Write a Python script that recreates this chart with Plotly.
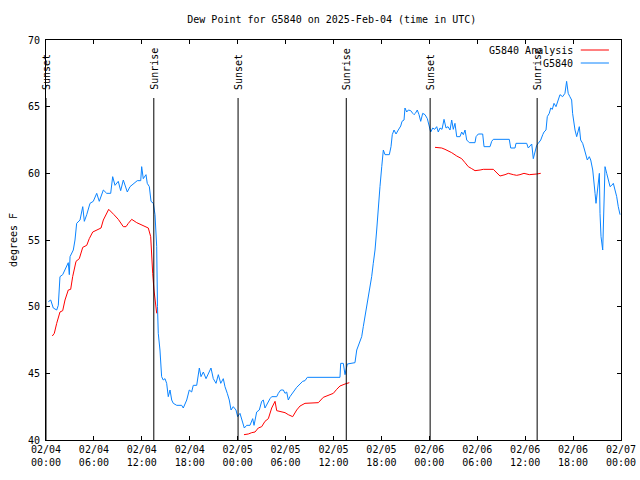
import pandas as pd
import plotly.graph_objects as go

BASE = pd.Timestamp("2025-02-04 00:00")

# Observed dew point (G5840), hours after 2025-02-04 00:00 UTC
obs_hours = [0.29, 0.59, 0.91, 1.34, 1.54, 1.75, 2.09, 2.38, 2.59, 2.79, 2.92, 3.01, 3.42, 3.63, 3.84,
             4.26, 4.60, 4.80, 5.10, 5.51, 5.92, 6.35, 6.67, 7.18, 7.60, 8.10, 8.35, 8.64, 9.05, 9.35,
             9.68, 10.18, 10.52, 10.93, 11.43, 11.86, 11.98, 12.18, 12.52, 12.68, 12.94, 13.15, 13.44,
             13.65, 13.86, 13.96, 14.06, 14.27, 14.48, 14.68, 14.90, 15.11, 15.31, 15.53, 15.74, 15.94,
             16.37, 16.99, 17.19, 17.62, 17.94, 18.24, 18.44, 18.87, 19.20, 19.41, 19.70, 20.04, 20.32,
             20.66, 20.95, 21.29, 21.58, 21.88, 22.20, 22.41, 22.70, 22.95, 23.17, 23.45, 23.79, 24.00,
             24.29, 24.51, 24.83, 25.13, 25.54, 25.88, 26.05, 26.38, 26.71, 27.01, 27.21, 27.42, 27.71,
             28.05, 28.26, 28.89, 29.09, 29.39, 29.72, 29.93, 30.14, 30.34, 30.55, 30.97, 31.39, 31.81,
             32.14, 32.43, 32.72, 36.81, 36.90, 37.23, 37.44, 37.73, 38.69, 38.91, 39.33, 39.53, 39.73,
             39.94, 40.16, 40.36, 40.57, 40.78, 40.98, 41.20, 41.41, 41.61, 41.82, 42.04, 42.24, 42.45,
             42.99, 43.20, 43.36, 43.58, 43.83, 44.11, 44.42, 44.58, 44.83, 44.95, 45.17, 45.37, 45.67,
             45.92, 46.08, 46.25, 46.49, 46.71, 46.92, 47.17, 47.46, 47.75, 48.00, 48.17, 48.42, 48.67,
             48.92, 49.12, 49.34, 49.59, 49.84, 50.09, 50.34, 50.59, 50.80, 51.00, 51.21, 51.43, 51.84,
             52.05, 52.26, 52.47, 52.68, 53.01, 53.72, 53.85, 54.13, 54.68, 54.85, 55.60, 55.81, 56.01,
             58.01, 58.19, 58.73, 58.85, 60.19, 60.39, 60.82, 61.02, 61.23, 61.44, 61.64, 61.95, 62.20,
             62.36, 62.61, 62.77, 63.02, 63.20, 63.40, 63.61, 63.86, 64.15, 64.36, 64.69, 64.98, 65.19,
             65.39, 65.60, 65.82, 65.94, 66.11, 66.24, 66.45, 66.65, 66.78, 66.95, 67.20, 67.37, 67.62,
             67.78, 68.03, 68.21, 68.46, 68.62, 68.75, 68.87, 69.04, 69.29, 69.37, 69.50, 69.71, 69.87,
             70.00, 70.21, 70.42, 70.63, 70.84, 71.04, 71.25, 71.46, 71.66, 71.88]
obs_values = [50.37, 50.5, 49.9, 49.75, 50.1, 52.25, 52.4, 52.75, 53.1, 53.3, 52.4, 53.75, 54.25, 55.0, 56.25,
              56.5, 57.5, 56.4, 56.9, 57.75, 57.9, 58.5, 57.9, 58.75, 58.5, 58.5, 59.75, 59.1, 59.4, 58.7,
              59.5, 58.6, 59.0, 59.2, 59.45, 59.45, 60.5, 59.6, 59.9, 59.25, 59.0, 57.9, 57.75,
              56.9, 54.5, 50.0, 48.0, 46.75, 44.75, 44.5, 44.6, 44.25, 43.25, 43.75, 43.0, 42.75,
              42.6, 42.6, 42.4, 43.0, 43.75, 43.6, 44.1, 44.1, 45.4, 44.75, 45.1, 44.6, 45.0,
              45.4, 44.6, 44.25, 44.9, 44.25, 44.6, 44.0, 43.5, 43.0, 42.25, 42.5, 42.25, 41.75,
              42.0, 41.5, 40.9, 41.1, 41.1, 41.6, 41.1, 42.1, 42.25, 42.9, 43.0, 42.4, 42.75,
              43.1, 43.25, 43.25, 43.5, 43.75, 43.75, 43.5, 43.6, 43.0, 43.25, 43.6, 43.95, 44.2,
              44.4, 44.45, 44.7, 44.7, 45.75, 45.75, 44.9, 45.7, 45.8, 46.75, 47.5, 47.75, 48.5,
              49.25, 50.0, 50.5, 51.5, 52.25, 53.25, 54.25, 55.75, 57.75, 59.0, 60.5, 61.75, 61.4,
              61.4, 62.0, 62.9, 63.25, 62.95, 63.25, 63.55, 63.9, 64.0, 64.9, 64.6, 64.75, 64.7,
              64.5, 64.4, 64.5, 64.75, 64.4, 63.9, 64.5, 64.4, 64.1, 63.6, 63.1, 63.4, 63.3,
              63.5, 63.1, 63.4, 63.3, 64.05, 63.4, 63.5, 63.25, 64.0, 63.3, 63.75, 62.75, 62.75,
              63.1, 62.9, 63.25, 62.5, 62.3, 62.3, 62.75, 62.95, 62.95, 62.0, 62.0, 62.4, 62.55,
              62.55, 61.9, 61.9, 62.25, 62.25, 61.9, 62.2, 61.1, 61.6, 62.1, 62.25, 62.5, 62.9,
              63.1, 63.25, 64.25, 64.5, 64.9, 64.8, 65.25, 65.0, 65.6, 65.9, 65.75, 66.0, 66.9,
              66.0, 65.75, 65.5, 64.5, 63.75, 63.25, 62.75, 63.1, 63.5, 62.5, 62.25, 61.9, 61.4,
              61.0, 61.25, 61.0, 60.25, 59.5, 58.5, 57.75, 58.5, 60.0, 57.0, 55.25, 54.25, 57.0,
              60.5, 60.0, 59.5, 59.0, 59.1, 59.25, 58.75, 58.25, 57.5, 56.9]

# Analysis dew point (G5840 Analysis); None marks gaps
ana_hours = [0.79, 1.04, 1.34, 1.75, 2.09, 2.38, 2.79, 3.09, 3.34, 3.76, 4.17, 4.60, 5.10, 5.42, 5.85,
             6.35, 6.89, 7.18, 7.85, 8.51, 9.05, 9.68, 10.02, 10.31, 10.73, 11.36, 12.18, 12.81, 13.11,
             13.23, 13.36, 13.52, 13.65, 13.86, 19.0,
             24.79, 25.33, 25.76, 26.17, 26.58, 27.01, 27.42, 27.84, 28.26, 28.68, 28.89, 29.30, 29.93,
             30.34, 30.89, 31.39, 31.81, 32.43, 34.10, 34.72, 35.35, 35.98, 36.40, 36.81, 37.44, 37.98, 43.0,
             48.71, 49.55, 49.96, 50.38, 50.80, 51.43, 52.05, 52.47, 52.88, 53.31, 53.72, 54.35, 54.76,
             56.01, 56.44, 56.85, 57.48, 57.89, 58.52, 58.94, 59.35, 59.85, 60.52, 61.02, 61.44, 61.95]
ana_values = [47.8, 48.0, 48.75, 49.6, 49.7, 50.5, 51.25, 51.3, 52.25, 53.4, 53.6, 54.45, 54.6, 55.1, 55.6,
              55.75, 55.9, 56.5, 57.3, 56.9, 56.55, 56.0, 56.0, 56.25, 56.55, 56.3, 56.1, 55.9, 55.25,
              53.5, 52.5, 51.25, 50.4, 49.5, None,
              40.4, 40.45, 40.55, 40.6, 40.9, 41.0, 41.4, 41.6, 42.4, 42.9, 42.2, 42.15, 42.05,
              41.9, 41.75, 42.25, 42.55, 42.75, 42.8, 43.2, 43.35, 43.5, 43.8, 44.05, 44.2, 44.3, None,
              61.95, 61.9, 61.8, 61.7, 61.55, 61.3, 61.1, 60.8, 60.5, 60.35, 60.2, 60.25, 60.3,
              60.3, 60.0, 59.8, 59.9, 60.0, 59.9, 59.85, 59.9, 60.0, 59.9, 59.9, 59.95, 60.0]

sun_event_hours = [0.0, 13.5, 24.05, 37.6, 48.1, 61.5]
sun_event_labels = ["Sunset", "Sunrise", "Sunset", "Sunrise", "Sunset", "Sunrise"]

tick_hours = list(range(0, 73, 6))
y_ticks = [40, 45, 50, 55, 60, 65, 70]

RED = "#ff0000"
BLUE = "#0a84ff"
FONT = "DejaVu Sans Mono"


def to_time(hours):
    return [BASE + pd.Timedelta(hours=h) for h in hours]


fig = go.Figure()
fig.add_trace(go.Scatter(x=to_time(obs_hours), y=obs_values, mode="lines",
                         line=dict(color=BLUE, width=1), name="G5840", showlegend=False))
fig.add_trace(go.Scatter(x=to_time(ana_hours), y=ana_values, mode="lines",
                         line=dict(color=RED, width=1), name="G5840 Analysis",
                         connectgaps=False, showlegend=False))

for t, lab in zip(to_time(sun_event_hours), sun_event_labels):
    fig.add_shape(type="line", x0=t, x1=t, xref="x", yref="paper", y0=0, y1=0.855,
                  line=dict(color="black", width=1))
    fig.add_annotation(x=t, xref="x", y=0.87, yref="paper", text=lab, textangle=-90,
                       showarrow=False, xanchor="center", yanchor="bottom",
                       font=dict(family=FONT, size=10, color="black"))

# gnuplot-style legend (text, then line sample)
legend_items = [("G5840 Analysis", RED, 0.975), ("G5840", BLUE, 0.9425)]
for name, col, yy in legend_items:
    fig.add_annotation(x=0.92, xref="paper", y=yy, yref="paper", text=name, showarrow=False,
                       xanchor="right", yanchor="middle", font=dict(family=FONT, size=10, color="black"))
    fig.add_shape(type="line", xref="paper", yref="paper", x0=0.930, x1=0.979, y0=yy, y1=yy,
                  line=dict(color=col, width=1))

tick_times = to_time(tick_hours)
tick_text = [t.strftime("%m/%d") + "<br>" + t.strftime("%H:%M") for t in tick_times]

fig.update_layout(
    width=640, height=480,
    margin=dict(l=46, r=19, t=40, b=40),
    paper_bgcolor="white", plot_bgcolor="white",
    font=dict(family=FONT, size=10, color="black"),
    title=dict(text="Dew Point for G5840 on 2025-Feb-04 (time in UTC)", x=0.497, xref="paper",
               xanchor="center", y=0.96, yanchor="middle", font=dict(family=FONT, size=10)),
    showlegend=False,
)
fig.update_xaxes(range=[tick_times[0], tick_times[-1]], tickvals=tick_times, ticktext=tick_text,
                 ticks="inside", ticklen=4, tickcolor="black", showline=True, linecolor="black",
                 linewidth=1, mirror="allticks", showgrid=False, zeroline=False, automargin=False,
                 tickfont=dict(family=FONT, size=10))
fig.update_yaxes(range=[40, 70], tickvals=y_ticks, ticks="inside", ticklen=4, tickcolor="black",
                 showline=True, linecolor="black", linewidth=1, mirror="allticks", showgrid=False,
                 zeroline=False, automargin=False, ticklabelstandoff=3,
                 title=dict(text="degrees F", font=dict(family=FONT, size=10), standoff=8),
                 tickfont=dict(family=FONT, size=10))

fig.write_html("out.html", config={"displayModeBar": False},
               post_script="document.body.style.margin='0';")
